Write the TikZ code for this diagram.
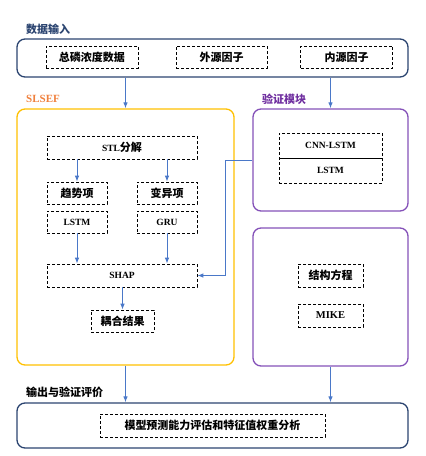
\documentclass[tikz,border=0pt]{standalone}
\usepackage{fontspec}
\setmainfont{Liberation Serif}
\newfontfamily\cjk{Noto Sans CJK SC}
\usetikzlibrary{arrows.meta}
\definecolor{navy}{HTML}{2B4470}
\definecolor{gold}{HTML}{FFC000}
\definecolor{purp}{HTML}{8451B8}
\definecolor{purt}{HTML}{7030A0}
\definecolor{orng}{HTML}{F0803C}
\definecolor{arrb}{HTML}{4A78C8}
\newcommand{\cn}[1]{{\cjk\bfseries\fontsize{11}{12}\selectfont #1}}
\tikzset{
  bigbox/.style={draw, rounded corners=8pt, line width=1.3pt, inner sep=0pt},
  dbox/.style={draw, dash pattern=on 3pt off 2pt, line width=0.7pt, inner sep=0pt, font=\fontsize{9.5}{10}\selectfont\bfseries},
  ttl/.style={anchor=west, inner sep=0pt, font=\fontsize{11}{12}\selectfont\bfseries},
  arr/.style={draw=arrb, line width=0.9pt, -{Latex[length=6pt,width=4.5pt]}}
}
\begin{document}
\begin{tikzpicture}[x=1pt,y=-1pt]
\useasboundingbox (0,0) rectangle (426,456);
% top
\node[bigbox, draw=navy, minimum width=391pt, minimum height=38pt] (top) at (212.5,58) {};
\node[ttl, text=navy] (tin) at (26,29) {\cn{数据输入}};
\node[dbox, minimum width=92pt, minimum height=22pt] (tp) at (92,57) {\cn{总磷浓度数据}};
\node[dbox, minimum width=91pt, minimum height=22pt] (ext) at (221.5,57) {\cn{外源因子}};
\node[dbox, minimum width=92pt, minimum height=22pt] (int) at (346.5,57) {\cn{内源因子}};
% SLSEF
\node[bigbox, draw=gold, minimum width=217pt, minimum height=256pt] (sl) at (125.5,237) {};
\node[ttl, text=orng] (slt) at (26,99) {SLSEF};
\node[dbox, minimum width=150pt, minimum height=23pt] (stl) at (122,147.5) {STL\cn{分解}};
\node[dbox, minimum width=60pt, minimum height=22pt] (trd) at (77,193) {\cn{趋势项}};
\node[dbox, minimum width=60pt, minimum height=22pt] (lstm) at (77,222) {LSTM};
\node[dbox, minimum width=60pt, minimum height=22pt] (var) at (167,193) {\cn{变异项}};
\node[dbox, minimum width=60pt, minimum height=22pt] (gru) at (167,222) {GRU};
\node[dbox, minimum width=150pt, minimum height=23pt] (shap) at (122,275.5) {SHAP};
\node[dbox, minimum width=63pt, minimum height=22pt] (cpl) at (122.5,321) {\cn{耦合结果}};
% verify
\node[bigbox, draw=purp, minimum width=155pt, minimum height=102pt] (v1) at (330.5,160) {};
\node[ttl, text=purt] (vt) at (262,99) {\cn{验证模块}};
\node[dbox, minimum width=103pt, minimum height=25pt] (cnn) at (330.5,145.5) {CNN-LSTM};
\node[dbox, minimum width=103pt, minimum height=25pt] (ls2) at (330.5,170.5) {LSTM};
\node[bigbox, draw=purp, minimum width=155pt, minimum height=138pt] (v2) at (330.5,297) {};
\node[dbox, minimum width=65pt, minimum height=23pt] (sem) at (330.5,275.5) {\cn{结构方程}};
\node[dbox, minimum width=65pt, minimum height=23pt, font=\fontsize{10.5}{11}\selectfont\bfseries] (mike) at (330.5,315.5) {MIKE};
% bottom
\node[bigbox, draw=navy, minimum width=391pt, minimum height=45pt] (bot) at (212.5,425.5) {};
\node[ttl] (bt) at (26,392) {\cn{输出与验证评价}};
\node[dbox, minimum width=225pt, minimum height=23pt] (ana) at (212.5,425.5) {\cn{模型预测能力评估和特征值权重分析}};
% arrows
\draw[arr] (top.south -| sl.north) -- (sl.north);
\draw[arr] (top.south -| v1.north) -- (v1.north);
\draw[arr] (stl.south -| trd.north) -- (trd.north);
\draw[arr] (stl.south -| var.north) -- (var.north);
\draw[arr] (lstm.south) -- (shap.north -| lstm.south);
\draw[arr] (gru.south) -- (shap.north -| gru.south);
\draw[arr] (shap.south -| cpl.north) -- (cpl.north);
\draw[arr] (v1.west) -- ++(-27,0) |- (shap.east);
\draw[arr] (sl.south) -- (bot.north -| sl.south);
\draw[arr] (v2.south) -- (bot.north -| v2.south);
\end{tikzpicture}
\end{document}
